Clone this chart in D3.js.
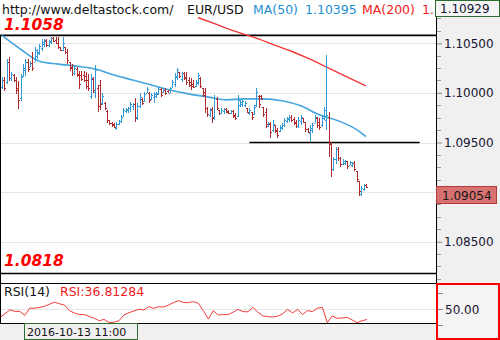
<!DOCTYPE html>
<html>
<head>
<meta charset="utf-8">
<script src="https://cdn.jsdelivr.net/npm/d3@7"></script>
<style>
body{margin:0;background:#fff;}
svg{display:block;}
</style>
</head>
<body>
<div id="chart"></div>
<script>
// hourly EUR/USD bars, oldest first
var highs = [1.1016,1.1016,1.1034,1.1036,1.1021,1.1019,1.1016,1.1012,1.1019,1.1029,
  1.1034,1.1034,1.1032,1.1041,1.1046,1.1044,1.1049,1.1054,1.1054,1.1054,1.1053,
  1.1056,1.1056,1.1056,1.1056,1.1046,1.1056,1.1046,1.1044,1.1031,1.1029,1.1027,
  1.1026,1.1022,1.1022,1.1022,1.1021,1.1019,1.1019,1.1016,1.1028,1.1008,1.1013,
  1.1000,1.0991,1.0983,1.0973,1.0971,1.0970,1.0971,1.0973,1.0978,1.0985,
  1.0985,1.0986,1.0991,1.0990,1.0995,1.0990,1.1000,1.0995,1.1001,1.1006,
  1.1001,1.1000,1.1001,1.1001,1.1006,1.1005,1.1005,1.1005,1.1003,1.1006,
  1.1013,1.1020,1.1025,1.1021,1.1021,1.1021,1.1021,1.1016,1.1015,1.1013,
  1.1013,1.1020,1.1016,1.1005,1.1005,1.0986,1.0985,1.0986,1.0998,1.0996,
  1.0983,1.0985,1.0985,1.0985,1.0983,1.0983,1.0983,1.0980,1.0998,1.0993,
  1.0993,1.0992,1.0985,1.0985,1.0981,1.0988,1.1005,1.0998,1.0998,1.0986,
  1.0985,1.0971,1.0971,1.0973,1.0968,1.0965,1.0968,1.0970,1.0975,1.0976,
  1.0978,1.0978,1.0976,1.0973,1.0976,1.0978,1.0975,1.0971,1.0965,1.0968,
  1.0970,1.0978,1.0976,1.0975,1.0978,1.0986,1.1038,1.0981,1.0951,1.0935,
  1.0945,1.0945,1.0935,1.0933,1.0932,1.0931,1.0931,1.0930,1.0931,1.0921,
  1.0911,1.0906,1.0908,1.0908];
var lows = [1.1004,1.1002,1.1009,1.1012,1.1012,1.1011,1.0999,1.0984,1.0992,1.1016,
  1.1017,1.1021,1.1026,1.1022,1.1031,1.1034,1.1038,1.1042,1.1046,1.1046,1.1046,
  1.1049,1.1051,1.1049,1.1044,1.1042,1.1042,1.1039,1.1029,1.1022,1.1017,1.1018,
  1.1016,1.1004,1.1012,1.1011,1.1004,1.1002,1.0994,1.1000,1.0995,1.0981,1.0983,
  1.0988,1.0983,1.0970,1.0968,1.0966,1.0965,1.0963,1.0968,1.0970,1.0976,
  1.0980,1.0980,1.0981,1.0983,1.0971,1.0973,1.0985,1.0988,1.0991,1.1000,
  1.0990,1.0993,1.0990,1.0995,1.0998,1.0996,1.1000,1.0998,1.1000,1.1000,
  1.1005,1.1006,1.1013,1.1015,1.1011,1.1013,1.1008,1.1006,1.1003,1.1005,
  1.1006,1.1008,1.1005,1.0996,1.0980,1.0976,1.0976,1.0970,1.0973,1.0983,
  1.0978,1.0979,1.0979,1.0980,1.0979,1.0979,1.0975,1.0973,1.0976,1.0986,
  1.0986,1.0986,1.0980,1.0978,1.0973,1.0978,1.0986,1.0985,1.0993,1.0976,
  1.0965,1.0966,1.0955,1.0961,1.0960,1.0955,1.0961,1.0963,1.0966,1.0970,
  1.0971,1.0971,1.0968,1.0965,1.0965,1.0968,1.0970,1.0961,1.0960,1.0951,
  1.0960,1.0970,1.0965,1.0963,1.0966,1.0973,1.0963,1.0935,1.0915,1.0921,
  1.0928,1.0931,1.0925,1.0927,1.0927,1.0923,1.0927,1.0925,1.0921,1.0910,
  1.0896,1.0896,1.0901,1.0904];
var opens = [1.1006,1.1013,1.1011,1.1031,1.1015,1.1018,1.1013,1.1005,1.0995,1.1017,
  1.1023,1.1031,1.1026,1.1030,1.1031,1.1037,1.1040,1.1045,1.1049,1.1052,1.1048,
  1.1051,1.1055,1.1053,1.1050,1.1046,1.1043,1.1046,1.1041,1.1031,1.1026,1.1020,
  1.1024,1.1019,1.1018,1.1018,1.1017,1.1013,1.0997,1.1014,1.1001,1.1005,1.1008,
  1.0990,1.0990,1.0982,1.0973,1.0970,1.0969,1.0965,1.0969,1.0972,1.0976,
  1.0982,1.0983,1.0985,1.0987,1.0989,1.0976,1.0987,1.0994,1.0992,1.1000,
  1.1000,1.0994,1.0996,1.0997,1.0999,1.1004,1.1001,1.1003,1.1002,1.1000,
  1.1005,1.1009,1.1016,1.1021,1.1014,1.1020,1.1016,1.1013,1.1011,1.1009,
  1.1007,1.1010,1.1015,1.1005,1.1001,1.0985,1.0978,1.0984,1.0976,1.0994,
  1.0983,1.0980,1.0982,1.0984,1.0982,1.0980,1.0982,1.0978,1.0977,1.0988,
  1.0989,1.0988,1.0985,1.0980,1.0981,1.0979,1.0988,1.0997,1.0997,1.0986,
  1.0981,1.0967,1.0969,1.0963,1.0968,1.0963,1.0962,1.0965,1.0968,1.0972,
  1.0974,1.0976,1.0974,1.0971,1.0967,1.0972,1.0975,1.0971,1.0964,1.0960,
  1.0963,1.0970,1.0975,1.0971,1.0968,1.0975,1.0973,1.0976,1.0949,1.0923,
  1.0933,1.0943,1.0934,1.0928,1.0929,1.0931,1.0927,1.0927,1.0929,1.0921,
  1.0911,1.0898,1.0903,1.0907];
var closes = [1.1013,1.1005,1.1031,1.1015,1.1019,1.1013,1.1003,1.0993,1.1016,1.1025,
  1.1031,1.1024,1.1030,1.1025,1.1043,1.1041,1.1047,1.1051,1.1053,1.1048,1.1052,
  1.1055,1.1052,1.1050,1.1046,1.1043,1.1050,1.1041,1.1033,1.1025,1.1020,1.1025,
  1.1018,1.1009,1.1014,1.1013,1.1007,1.1005,1.1015,1.1003,1.1023,1.0987,1.0989,
  1.0997,1.0985,1.0973,1.0970,1.0968,1.0966,1.0969,1.0972,1.0976,1.0983,
  1.0984,1.0985,1.0989,1.0989,1.0975,1.0987,1.0996,1.0990,1.0999,1.1004,
  1.0993,1.0998,1.0999,1.1000,1.1004,1.0998,1.1003,1.1000,1.1000,1.1005,
  1.1011,1.1017,1.1023,1.1017,1.1020,1.1015,1.1011,1.1008,1.1007,1.1006,
  1.1011,1.1018,1.1007,1.0998,1.0985,1.0979,1.0983,1.0975,1.0995,1.0985,
  1.0980,1.0983,1.0984,1.0981,1.0980,1.0982,1.0977,1.0975,1.0993,1.0991,
  1.0992,1.0990,1.0981,1.0983,1.0976,1.0986,1.1001,1.0989,1.0994,1.0979,
  1.0969,1.0970,1.0961,1.0969,1.0962,1.0958,1.0966,1.0968,1.0973,1.0975,
  1.0976,1.0973,1.0970,1.0967,1.0973,1.0976,1.0971,1.0964,1.0961,1.0965,
  1.0968,1.0976,1.0968,1.0966,1.0975,1.0983,1.0978,1.0948,1.0923,1.0933,
  1.0943,1.0934,1.0928,1.0931,1.0931,1.0926,1.0930,1.0929,1.0923,1.0913,
  1.0901,1.0904,1.0907,1.09054];
// moving averages, sampled at bar numbers
var ma50At  = [0,8,16,24,32,40,48,56,64,72,80,88,96,104,112,120,128,136,144,152,156];
var ma50    = [1.1058,1.1044,1.1032,1.1029,1.1027,1.1024,1.1018,1.1013,1.1008,1.1003,1.0999,
  1.0996,1.0993,1.0994,1.0994,1.0992,1.0987,1.0978,1.0972,1.0963,1.0956];
var ma200At = [84,92,100,108,116,124,132,140,148,156];
var ma200   = [1.1076,1.1069,1.1062,1.1056,1.1049,1.1042,1.1034,1.1025,1.1016,1.1007];
// RSI(14), evenly sampled over the bars
var rsi = [39.6,44,49,47,47,42,51,51,52,53.5,56,58.5,56.5,55,48,45,43,43,40.5,38.5,
  35.4,37,33,33.5,35.5,42.5,45.4,47.5,49.6,48.8,52.9,50.8,52.9,52.5,55,58,60.4,58,58,59.2,
  57.1,48,37.5,47.9,42.5,43,43,46,49.6,46.7,46.5,52,46,41.3,40.5,40,41,44,49.6,45,
  49.6,43,48,46.7,51,52.1,32.9,41.3,38.3,38.8,39.6,36.3,32.9,35.4,36.81];
var priceTicks = [1.105,1.100,1.095,1.090,1.085];
var rsiTicks   = [70,50,30];
var levels     = [1.1058,1.0818];
var support    = {price:1.0950, from:106, to:179};
var lastPrice  = 1.09054, topPrice = 1.10929;

if ([lows,opens,closes].some(a => a.length != highs.length)) throw new Error('bar arrays differ: '+[highs.length,lows.length,opens.length,closes.length]);

var font = '"DejaVu Sans", Verdana, sans-serif';
var W = 500, H = 340, pw = 437;
var blue = '#2f9ad6', red = '#b0292d';
var svg = d3.select('#chart').append('svg').attr('width',W).attr('height',H)
  .style('font-family',font);

var x  = d3.scaleLinear().domain([0,highs.length-1]).range([2,366]);
var y  = d3.scaleLinear().domain([1.105,1.085]).range([43.3,241.7]);
var ry = d3.scaleLinear().domain([30,70]).range([325,293]);
var rx = d3.scaleLinear().domain([0,rsi.length-1]).range([0,367]);
var px = v => Math.round(v)+0.5;
var ly = Math.round(y(lastPrice));

// backgrounds
svg.append('rect').attr('width',W).attr('height',H).attr('fill','#fff');
svg.append('rect').attr('x',pw).attr('width',W-pw).attr('height',H).attr('fill','#f0f0f0');
svg.append('rect').attr('y',323).attr('width',W).attr('height',H-323).attr('fill','#f0f0f0');

// grid
svg.append('g').selectAll('line').data(priceTicks).enter().append('line')
  .attr('x1',0).attr('x2',pw).attr('y1',d => px(y(d))).attr('y2',d => px(y(d)))
  .attr('stroke','#e6e6e6');
svg.append('line').attr('x1',0).attr('x2',pw).attr('y1',px(ry(50))).attr('y2',px(ry(50)))
  .attr('stroke','#e6e6e6');

// horizontal levels
svg.append('g').selectAll('line').data(levels).enter().append('line')
  .attr('x1',0).attr('x2',pw).attr('y1',d => y(d)).attr('y2',d => y(d))
  .attr('stroke','#000').attr('stroke-width',1.6);
svg.append('line').attr('x1',x(support.from)).attr('x2',x(support.to))
  .attr('y1',y(support.price)).attr('y2',y(support.price))
  .attr('stroke','#000').attr('stroke-width',1.6);

// MA lines
var line = d3.line().curve(d3.curveMonotoneX);
svg.append('path').attr('d',line(ma200.map((v,i) => [x(ma200At[i]),y(v)])))
  .attr('fill','none').attr('stroke','#f23a3a').attr('stroke-width',1.4);
svg.append('path').attr('d',line(ma50.map((v,i) => [x(ma50At[i]),y(v)])))
  .attr('fill','none').attr('stroke','#45a5dc').attr('stroke-width',1.6);

// OHLC bars
var bars = svg.append('g').attr('shape-rendering','crispEdges').selectAll('g')
  .data(highs.map((h,i) => ({h:h,l:lows[i],o:opens[i],c:closes[i],i:i})))
  .enter().append('g')
  .attr('fill',d => d.c >= d.o ? blue : red);
bars.append('rect').attr('x',d => Math.round(x(d.i))).attr('width',1)
  .attr('y',d => Math.round(y(d.h))).attr('height',d => Math.max(1,Math.round(y(d.l))-Math.round(y(d.h))));
bars.append('rect').attr('x',d => Math.round(x(d.i))-1).attr('width',1)
  .attr('y',d => Math.round(y(d.o))).attr('height',1);
bars.append('rect').attr('x',d => Math.round(x(d.i))+1).attr('width',1)
  .attr('y',d => Math.round(y(d.c))).attr('height',1);

// RSI
svg.append('path').attr('d',d3.line()(rsi.map((v,i) => [rx(i),ry(v)])))
  .attr('fill','none').attr('stroke','#f53b3b').attr('stroke-width',1);
svg.append('g').selectAll('line').data([283.5,323.5]).enter().append('line')
  .attr('x1',0).attr('x2',pw).attr('y1',d => d).attr('y2',d => d).attr('stroke','#000');
svg.append('line').attr('x1',0.5).attr('x2',0.5).attr('y1',35).attr('y2',323).attr('stroke','#000');
svg.append('line').attr('x1',pw-0.5).attr('x2',pw-0.5).attr('y1',0).attr('y2',323).attr('stroke','#000');

// price axis (label under the last-price box is left out, it is hidden there)
var axis = d3.axisRight(y).tickValues(priceTicks).tickSize(5).tickPadding(2)
  .tickFormat(d => Math.abs(y(d)-ly-8) < 12 ? '' : d3.format('.5f')(d));
var ga = svg.append('g').attr('transform','translate('+pw+',0)').call(axis);
ga.select('.domain').remove();
ga.selectAll('line').attr('stroke','#888');
ga.selectAll('text').style('font-family',font).style('font-size','12px').attr('fill','#151530');
var minor = d3.range(1.08125,1.109,0.00125).filter(v => priceTicks.every(t => Math.abs(t-v) > 1e-6));
svg.append('g').selectAll('line').data(minor).enter().append('line')
  .attr('x1',pw).attr('x2',pw+4).attr('y1',d => px(y(d))).attr('y2',d => px(y(d)))
  .attr('stroke','#999');

// top price box
svg.append('rect').attr('x',pw-1.5).attr('y',0.5).attr('width',W-pw+1).attr('height',16)
  .attr('fill','#f4f4f4').attr('stroke','#2e6b2e');
svg.append('text').attr('x',pw+3).attr('y',13).text(topPrice.toFixed(5))
  .style('font-size','12px').attr('fill','#151530');
// last price box
svg.append('rect').attr('x',pw-0.5).attr('y',ly-0.5).attr('width',60).attr('height',17)
  .attr('fill','#d87272').attr('stroke','#b53b3b');
svg.append('text').attr('x',pw+5).attr('y',ly+13).text(lastPrice.toFixed(5))
  .style('font-size','12px').attr('fill','#151515');

// RSI axis box
svg.append('rect').attr('x',pw).attr('y',284).attr('width',W-pw-1).attr('height',55)
  .attr('fill','#f4f4f4').attr('stroke','#ff0000').attr('stroke-width',2);
svg.append('g').selectAll('line').data(rsiTicks).enter().append('line')
  .attr('x1',pw+1).attr('x2',pw+6).attr('y1',d => px(ry(d))).attr('y2',d => px(ry(d)))
  .attr('stroke','#888');
svg.append('text').attr('x',pw+8).attr('y',ry(50)+4.5).text('50.00')
  .style('font-size','12px').attr('fill','#151530');

// date box
svg.append('rect').attr('x',24.5).attr('y',323.5).attr('width',113).attr('height',16)
  .attr('fill','#f0f0f0').attr('stroke','#2e6b2e');
svg.append('text').attr('x',27).attr('y',336).text('2016-10-13 11:00')
  .style('font-size','11px').attr('fill','#111');

// header texts
var hdr = [
  {t:'http://www.deltastock.com/', x:2,   c:'#111'},
  {t:'EUR/USD',                    x:187, c:'#111'},
  {t:'MA(50)',                     x:253, c:'#1f8fd2'},
  {t:'1.10395',                    x:305, c:'#1f8fd2'},
  {t:'MA(200)',                    x:362, c:'#f01c1c'},
  {t:'1.',                         x:422, c:'#f01c1c'}
];
svg.append('g').selectAll('text').data(hdr).enter().append('text')
  .attr('x',d => d.x).attr('y',13.5).attr('fill',d => d.c)
  .style('font-size','12.5px').text(d => d.t);
svg.append('text').attr('x',4).attr('y',296).text('RSI(14)').style('font-size','12.5px').attr('fill','#111');
svg.append('text').attr('x',60).attr('y',296).text('RSI:36.81284').style('font-size','12.5px').attr('fill','#f01c1c');

// level labels
svg.append('g').selectAll('text').data(levels).enter().append('text')
  .attr('x',4).attr('y',(d,i) => i == 0 ? 30 : 266)
  .style('font-size','15.5px').style('font-weight','bold').style('font-style','italic')
  .attr('fill','#ff0000').text(d => d.toFixed(4));
</script>
</body>
</html>
